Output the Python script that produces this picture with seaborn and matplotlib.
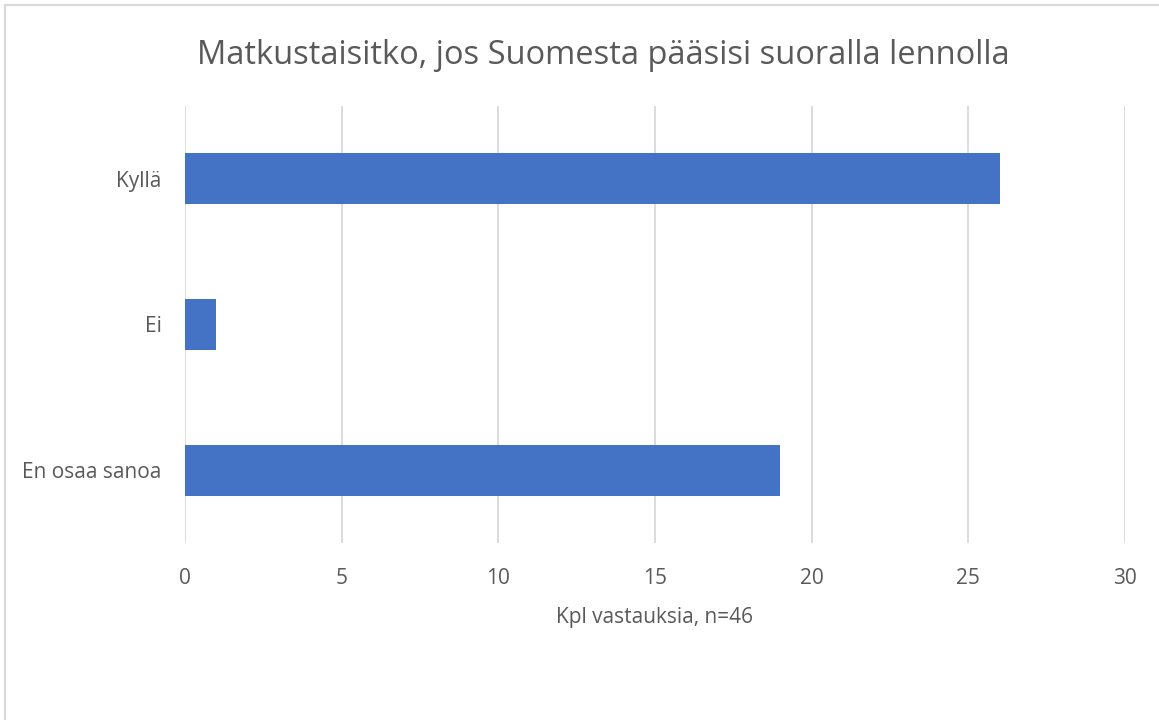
import matplotlib.pyplot as plt
import seaborn as sns
import pandas as pd
from matplotlib.patches import Rectangle

categories = ["Kyllä", "Ei", "En osaa sanoa"]
responses = [26, 1, 19]
x_ticks = [0, 5, 10, 15, 20, 25, 30]

TEXT = "#595959"
BAR = "#4472C4"
GRID = "#D9D9D9"

sns.set_style("white")
plt.rcParams["font.family"] = ["Open Sans", "DejaVu Sans"]

df = pd.DataFrame({"vastaus": categories, "kpl": responses})

fig = plt.figure(figsize=(11.59, 7.2), dpi=100)
ax = fig.add_axes([185 / 1159, 1 - 543 / 720, 940 / 1159, 437 / 720])

sns.barplot(data=df, x="kpl", y="vastaus", orient="h", color=BAR,
            width=0.35, saturation=1, linewidth=0, ax=ax)

ax.set_xlim(0, 30)
ax.set_ylim(2.5, -0.5)
ax.set_xticks(x_ticks)
ax.grid(axis="x", color=GRID, linewidth=1.3)
ax.set_axisbelow(True)
for s in ax.spines.values():
    s.set_visible(False)

ax.tick_params(axis="x", length=0, pad=18, labelsize=15, labelcolor=TEXT)
ax.tick_params(axis="y", length=0, pad=17, labelsize=15, labelcolor=TEXT)
ax.set_ylabel("")
ax.set_xlabel("Kpl vastauksia, n=46", fontsize=15, color=TEXT, labelpad=13)

fig.text(603 / 1159, 1 - 55 / 720, "Matkustaisitko, jos Suomesta pääsisi suoralla lennolla",
         ha="center", va="center", fontsize=23.5, color=TEXT)

# light frame around the chart area
fig.patches.append(Rectangle((5 / 1159, -0.1), 1.2, 1 - 5 / 720 + 0.1,
                             transform=fig.transFigure, fill=False,
                             edgecolor="#D9D9D9", linewidth=1.5))

fig.savefig("out.png", dpi=100)
plt.close(fig)
